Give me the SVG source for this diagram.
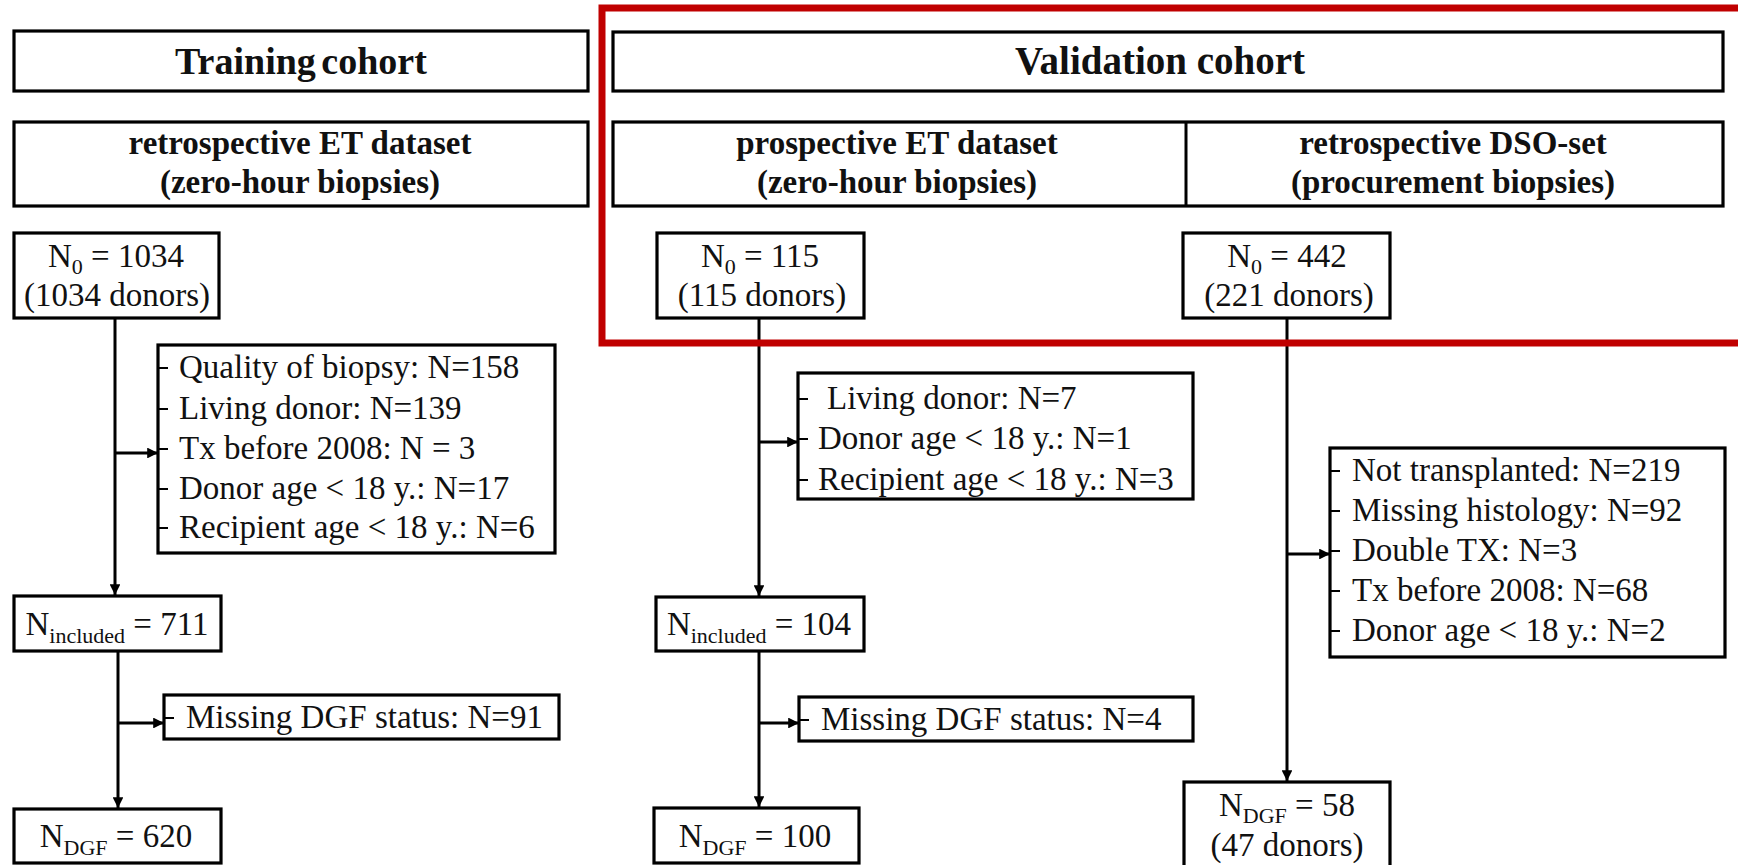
<svg xmlns="http://www.w3.org/2000/svg" width="1738" height="865" viewBox="0 0 1738 865">
<style>
.box{fill:#fff;stroke:#000;stroke-width:3.2}
.hd{font-family:"Liberation Serif","Times New Roman",serif;font-weight:bold;font-size:38px;fill:#111;text-anchor:middle;word-spacing:-4px}
.sh{font-family:"Liberation Serif","Times New Roman",serif;font-weight:bold;font-size:33px;fill:#111;text-anchor:middle}
.t{font-family:"Liberation Serif","Times New Roman",serif;font-size:33px;fill:#111}
.c{text-anchor:middle}
.sub{font-size:22px}
.ln{stroke:#000;stroke-width:3;fill:none}
.tk{stroke:#000;stroke-width:2}
</style>
<defs>
<marker id="ah" viewBox="0 0 10 10" refX="10" refY="5" markerWidth="3.6" markerHeight="3.6" orient="auto" markerUnits="strokeWidth">
<path d="M0,0 L10,5 L0,10 z" fill="#000"/>
</marker>
</defs>
<rect width="1738" height="865" fill="#fff"/>
<g id="connectors">
<line class="ln" x1="115" y1="318" x2="115" y2="595" marker-end="url(#ah)"/>
<line class="ln" x1="115" y1="453" x2="158" y2="453" marker-end="url(#ah)"/>
<line class="ln" x1="118" y1="651" x2="118" y2="808" marker-end="url(#ah)"/>
<line class="ln" x1="118" y1="723" x2="164" y2="723" marker-end="url(#ah)"/>
<line class="ln" x1="759" y1="318" x2="759" y2="596" marker-end="url(#ah)"/>
<line class="ln" x1="759" y1="442" x2="798" y2="442" marker-end="url(#ah)"/>
<line class="ln" x1="759" y1="651" x2="759" y2="807" marker-end="url(#ah)"/>
<line class="ln" x1="759" y1="723" x2="799" y2="723" marker-end="url(#ah)"/>
<line class="ln" x1="1287" y1="318" x2="1287" y2="781" marker-end="url(#ah)"/>
<line class="ln" x1="1287" y1="554" x2="1330" y2="554" marker-end="url(#ah)"/>
</g>
<g id="training-header">
<rect class="box" x="14" y="31" width="574" height="60"/>
<text class="hd" x="301" y="74">Training cohort</text>
</g>
<g id="validation-header">
<rect class="box" x="613" y="32" width="1110" height="59"/>
<text class="hd" x="1160" y="74" style="font-size:39px;word-spacing:0">Validation cohort</text>
</g>
<g id="retro-et">
<rect class="box" x="14" y="122" width="574" height="84"/>
<text class="sh" x="300" y="154">retrospective ET dataset</text>
<text class="sh" x="300" y="193">(zero-hour biopsies)</text>
</g>
<g id="validation-sets">
<rect class="box" x="613" y="122" width="1110" height="84"/>
<line class="ln" x1="1186" y1="122" x2="1186" y2="206"/>
<text class="sh" x="897" y="154">prospective ET dataset</text>
<text class="sh" x="897" y="193">(zero-hour biopsies)</text>
<text class="sh" x="1453" y="154">retrospective DSO-set</text>
<text class="sh" x="1453" y="193">(procurement biopsies)</text>
</g>
<g id="n0-training">
<rect class="box" x="14" y="233" width="205" height="85"/>
<text class="t c" x="116" y="267">N<tspan class="sub" dy="7">0</tspan><tspan dy="-7"> = 1034</tspan></text>
<text class="t c" x="117" y="306">(1034 donors)</text>
</g>
<g id="n0-prospective">
<rect class="box" x="657" y="233" width="207" height="85"/>
<text class="t c" x="760" y="267">N<tspan class="sub" dy="7">0</tspan><tspan dy="-7"> = 115</tspan></text>
<text class="t c" x="762" y="306">(115 donors)</text>
</g>
<g id="n0-dso">
<rect class="box" x="1183" y="233" width="207" height="85"/>
<text class="t c" x="1287" y="267">N<tspan class="sub" dy="7">0</tspan><tspan dy="-7"> = 442</tspan></text>
<text class="t c" x="1289" y="306">(221 donors)</text>
</g>
<g id="excl-training">
<rect class="box" x="158" y="345" width="397" height="208"/>
<line class="tk" x1="158" y1="368" x2="168" y2="368"/>
<line class="tk" x1="158" y1="409" x2="168" y2="409"/>
<line class="tk" x1="158" y1="449" x2="168" y2="449"/>
<line class="tk" x1="158" y1="489" x2="168" y2="489"/>
<line class="tk" x1="158" y1="528" x2="168" y2="528"/>
<text class="t" x="179" y="378">Quality of biopsy: N=158</text>
<text class="t" x="179" y="419">Living donor: N=139</text>
<text class="t" x="179" y="459">Tx before 2008: N = 3</text>
<text class="t" x="179" y="499">Donor age &lt; 18 y.: N=17</text>
<text class="t" x="179" y="538">Recipient age &lt; 18 y.: N=6</text>
</g>
<g id="incl-training">
<rect class="box" x="14" y="596" width="207" height="55"/>
<text class="t c" x="117" y="635">N<tspan class="sub" dy="8">included</tspan><tspan dy="-8"> = 711</tspan></text>
</g>
<g id="dgf-missing-training">
<rect class="box" x="164" y="695" width="395" height="44"/>
<line class="tk" x1="164" y1="718" x2="174" y2="718"/>
<text class="t" x="186" y="728">Missing DGF status: N=91</text>
</g>
<g id="dgf-training">
<rect class="box" x="14" y="809" width="207" height="54"/>
<text class="t c" x="116" y="847">N<tspan class="sub" dy="8">DGF</tspan><tspan dy="-8"> = 620</tspan></text>
</g>
<g id="excl-prospective">
<rect class="box" x="798" y="373" width="395" height="126"/>
<line class="tk" x1="798" y1="399" x2="808" y2="399"/>
<line class="tk" x1="798" y1="439" x2="808" y2="439"/>
<line class="tk" x1="798" y1="480" x2="808" y2="480"/>
<text class="t" x="827" y="409">Living donor: N=7</text>
<text class="t" x="818" y="449">Donor age &lt; 18 y.: N=1</text>
<text class="t" x="818" y="490">Recipient age &lt; 18 y.: N=3</text>
</g>
<g id="incl-prospective">
<rect class="box" x="656" y="597" width="208" height="54"/>
<text class="t c" x="759" y="635">N<tspan class="sub" dy="8">included</tspan><tspan dy="-8"> = 104</tspan></text>
</g>
<g id="dgf-missing-prospective">
<rect class="box" x="799" y="697" width="394" height="44"/>
<line class="tk" x1="799" y1="720" x2="809" y2="720"/>
<text class="t" x="821" y="730">Missing DGF status: N=4</text>
</g>
<g id="dgf-prospective">
<rect class="box" x="654" y="808" width="205" height="55"/>
<text class="t c" x="755" y="847">N<tspan class="sub" dy="8">DGF</tspan><tspan dy="-8"> = 100</tspan></text>
</g>
<g id="excl-dso">
<rect class="box" x="1330" y="448" width="395" height="209"/>
<line class="tk" x1="1330" y1="471" x2="1340" y2="471"/>
<line class="tk" x1="1330" y1="511" x2="1340" y2="511"/>
<line class="tk" x1="1330" y1="551" x2="1340" y2="551"/>
<line class="tk" x1="1330" y1="591" x2="1340" y2="591"/>
<line class="tk" x1="1330" y1="631" x2="1340" y2="631"/>
<text class="t" x="1352" y="481">Not transplanted: N=219</text>
<text class="t" x="1352" y="521">Missing histology: N=92</text>
<text class="t" x="1352" y="561">Double TX: N=3</text>
<text class="t" x="1352" y="601">Tx before 2008: N=68</text>
<text class="t" x="1352" y="641">Donor age &lt; 18 y.: N=2</text>
</g>
<g id="dgf-dso">
<rect class="box" x="1184" y="782" width="206" height="90"/>
<text class="t c" x="1287" y="816">N<tspan class="sub" dy="7">DGF</tspan><tspan dy="-7"> = 58</tspan></text>
<text class="t c" x="1287" y="856">(47 donors)</text>
</g>
<g id="validation-highlight">
<rect x="602" y="8" width="1150" height="335" fill="none" stroke="#C00000" stroke-width="7"/>
</g>
</svg>
